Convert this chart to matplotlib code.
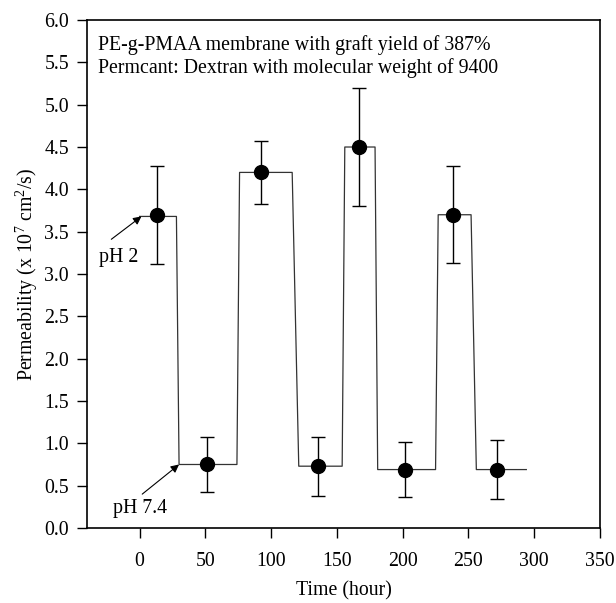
import matplotlib
matplotlib.use("Agg")
import matplotlib.pyplot as plt
import numpy as np

plt.rcParams['font.family'] = ['Liberation Serif', 'DejaVu Serif']
plt.rcParams['mathtext.fontset'] = 'custom'
plt.rcParams['mathtext.rm'] = 'Liberation Serif'
plt.rcParams['mathtext.it'] = 'Liberation Serif:italic'

# measured points (time in hours, permeability x 10^7 cm^2/s)
time_pts = [13, 51, 92, 136, 166.5, 202, 238.5, 272]
perm_pts = [3.70, 0.75, 4.20, 0.73, 4.50, 0.69, 3.70, 0.69]
perm_err = [0.58, 0.32, 0.37, 0.35, 0.70, 0.32, 0.57, 0.35]

# pH switching step line
step_time = [0, 28, 30, 74, 76, 116, 121, 154, 156, 179, 181, 225, 227, 252, 256, 294]
step_perm = [3.68, 3.68, 0.75, 0.75, 4.2, 4.2, 0.73, 0.73, 4.5, 4.5, 0.69, 0.69,
             3.7, 3.7, 0.69, 0.69]

x_ticks = np.arange(0, 351, 50)
y_ticks = np.arange(0, 6.01, 0.5)

fs = 14.3

fig = plt.figure(figsize=(6.16, 6.03), dpi=100)
ax = fig.add_axes([0.1412, 0.1244, 0.8328, 0.8424])

ax.plot(step_time, step_perm, color='#333333', linewidth=0.9)
ax.errorbar(time_pts, perm_pts, yerr=perm_err, fmt='o', color='black',
            markersize=10, elinewidth=1.0, capsize=5, capthick=1.0)

# arrows pointing at the step line
ax.annotate('', xy=(1.4, 3.68), xytext=(-21.5, 3.41),
            arrowprops=dict(arrowstyle='-|>', color='black', lw=0.8,
                            shrinkA=0, shrinkB=0, mutation_scale=12))
ax.text(-31, 3.2, 'pH 2', fontsize=fs, va='center', ha='left')
ax.annotate('', xy=(30, 0.75), xytext=(2, 0.40),
            arrowprops=dict(arrowstyle='-|>', color='black', lw=0.8,
                            shrinkA=0, shrinkB=0, mutation_scale=12))
ax.text(-20, 0.23, 'pH 7.4', fontsize=fs, va='center', ha='left')

ax.text(-31.4, 5.70, 'PE-g-PMAA membrane with graft yield of 387%',
        fontsize=fs, va='center', ha='left')
ax.text(-31.4, 5.43, 'Permcant: Dextran with molecular weight of 9400',
        fontsize=fs, va='center', ha='left')

ax.set_xlim(-40, 350)
ax.set_ylim(0, 6.0)
ax.set_xticks(x_ticks)
ax.set_yticks(y_ticks)
ax.set_yticklabels([f'{v:.1f}' for v in y_ticks])
ax.tick_params(axis='both', direction='out', length=7, width=1.0,
               labelsize=fs, top=False, right=False)
ax.tick_params(axis='x', pad=10)
ax.tick_params(axis='y', pad=6)

ax.set_xlabel('Time (hour)', fontsize=fs, labelpad=8)
ax.set_ylabel('Permeability (x 10$^7$ cm$^2$/s)', fontsize=fs, labelpad=3)

for sp in ax.spines.values():
    sp.set_linewidth(1.2)

fig.savefig('out.png', dpi=100)
